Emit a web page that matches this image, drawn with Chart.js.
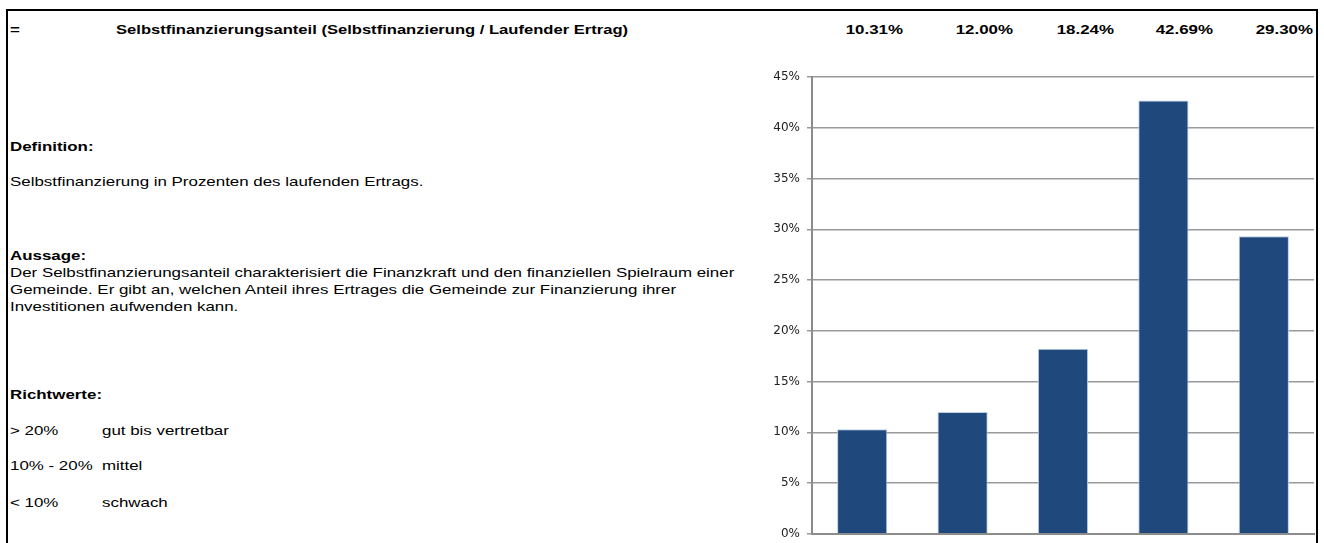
<!DOCTYPE html>
<html>
<head>
<meta charset="utf-8">
<script src="https://cdn.jsdelivr.net/npm/chart.js@4/dist/chart.umd.min.js"></script>
<style>
  html, body { margin: 0; padding: 0; background: #fff; }
  body { width: 1324px; height: 543px; position: relative; overflow: hidden;
         font-family: "Liberation Sans", Arial, sans-serif; font-size: 13px; color: #000; }
  .frame { position: absolute; left: 6px; top: 9px; width: 1308px; height: 560px;
           border-top: 2px solid #000; border-left: 2px solid #000; border-right: 2px solid #000; }
  .t { position: absolute; white-space: nowrap; line-height: 16px;
       transform: scaleX(1.3); transform-origin: left center; }
  .b { font-weight: bold; }
  .r { text-align: right; width: 90px; transform-origin: right center; }
  #chartBox { position: absolute; left: 740px; top: 60px; width: 576px; height: 488px; }
</style>
</head>
<body>
<div class="frame"></div>

<div class="t b" style="left:10px; top:22px;">=</div>
<div class="t b" style="left:116px; top:22px; transform: scaleX(1.275);">Selbstfinanzierungsanteil (Selbstfinanzierung / Laufender Ertrag)</div>
<div id="header"></div>

<div class="t b" style="left:10px; top:139px;">Definition:</div>
<div class="t" style="left:10px; top:174px;">Selbstfinanzierung in Prozenten des laufenden Ertrags.</div>

<div class="t b" style="left:10px; top:248px;">Aussage:</div>
<div class="t" style="left:10px; top:265px;">Der Selbstfinanzierungsanteil charakterisiert die Finanzkraft und den finanziellen Spielraum einer</div>
<div class="t" style="left:10px; top:282px;">Gemeinde. Er gibt an, welchen Anteil ihres Ertrages die Gemeinde zur Finanzierung ihrer</div>
<div class="t" style="left:10px; top:299px;">Investitionen aufwenden kann.</div>

<div class="t b" style="left:10px; top:387px;">Richtwerte:</div>
<div class="t" style="left:10px; top:423px;">&gt; 20%</div>
<div class="t" style="left:102px; top:423px;">gut bis vertretbar</div>
<div class="t" style="left:10px; top:458px;">10% - 20%</div>
<div class="t" style="left:102px; top:458px;">mittel</div>
<div class="t" style="left:10px; top:495px;">&lt; 10%</div>
<div class="t" style="left:102px; top:495px;">schwach</div>

<div id="chartBox"><canvas id="ratioChart"></canvas></div>

<script>
// Daten: Selbstfinanzierungsanteil je Periode (in %)
const categories = ['1', '2', '3', '4', '5'];
const shareValues = [10.31, 12.00, 18.24, 42.69, 29.30];
const headerLabels = ['10.31%', '12.00%', '18.24%', '42.69%', '29.30%'];
const yTicks = [0, 5, 10, 15, 20, 25, 30, 35, 40, 45];

// Kopfzeile mit den Werten
const headerEl = document.getElementById('header');
const headerRight = [903, 1013, 1114, 1213, 1313];
headerLabels.forEach((txt, i) => {
    const div = document.createElement('div');
    div.className = 't b r';
    div.style.left = (headerRight[i] - 90) + 'px';
    div.style.top = '22px';
    div.textContent = txt;
    headerEl.appendChild(div);
});

const ctx = document.getElementById('ratioChart').getContext('2d');
new Chart(ctx, {
    type: 'bar',
    data: {
        labels: categories,
        datasets: [{
            data: shareValues,
            backgroundColor: '#1f497d',
            borderColor: '#b9cde5',
            borderWidth: 1,
            barPercentage: 1,
            categoryPercentage: 0.5
        }]
    },
    options: {
        responsive: true,
        maintainAspectRatio: false,
        animation: false,
        layout: { padding: { top: 17, right: 2, bottom: 1, left: 0 } },
        plugins: {
            legend: { display: false },
            tooltip: { enabled: false }
        },
        scales: {
            x: {
                ticks: { display: false },
                grid: { display: false },
                border: { color: '#8c8c8c', width: 2 }
            },
            y: {
                min: 0,
                max: 45,
                afterBuildTicks: (axis) => {
                    axis.ticks = yTicks.map(v => ({ value: v }));
                },
                afterFit: (axis) => { axis.width = 72; },
                ticks: {
                    padding: 7,
                    color: '#222',
                    font: { family: '"DejaVu Sans", sans-serif', size: 12 },
                    callback: (v) => v + '%'
                },
                grid: { color: '#9a9a9a', lineWidth: 1.5, tickLength: 5 },
                border: { color: '#8c8c8c', width: 2 }
            }
        }
    }
});
</script>
</body>
</html>
